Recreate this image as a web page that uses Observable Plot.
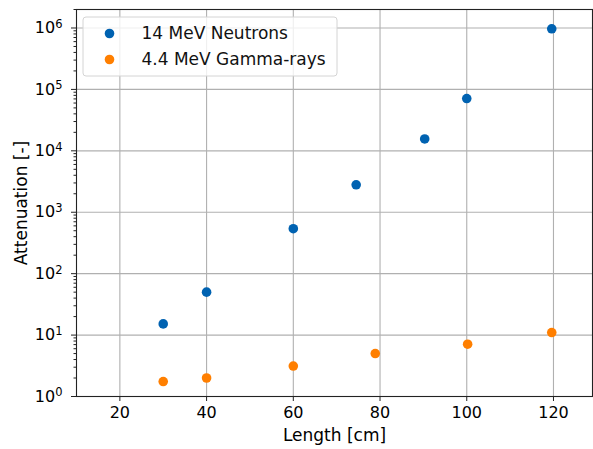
<!DOCTYPE html>
<html>
<head>
<meta charset="utf-8">
<script src="https://cdn.jsdelivr.net/npm/d3@7"></script>
<script src="https://cdn.jsdelivr.net/npm/@observablehq/plot@0.6"></script>
<style>
  html, body { margin: 0; padding: 0; background: #fff; }
  #chart svg { display: block; }
</style>
</head>
<body>
<div id="chart"></div>
<script>
// ---- data ----
const neutronLength = [30, 40, 60, 74.5, 90.3, 100, 119.6];
const neutronAtten  = [15.2, 50, 540, 2800, 15600, 71000, 970000];
const gammaLength   = [30, 40, 60, 78.9, 100.2, 119.6];
const gammaAtten    = [1.75, 2.0, 3.13, 5.0, 7.1, 11.0];
const seriesNames   = ["14 MeV Neutrons", "4.4 MeV Gamma-rays"];
const seriesColors  = ["#0062b1", "#ff7f00"];
const xTicks = [20, 40, 60, 80, 100, 120];
const yTicks = [1, 10, 100, 1e3, 1e4, 1e5, 1e6];
const yMinor = [];
for (let e = 0; e <= 6; e++) for (let m = 2; m <= 9; m++) { const v = m * 10 ** e; if (v <= 2e6) yMinor.push(v); }

const rows = [
  ...neutronLength.map((x, i) => ({ x, y: neutronAtten[i], s: seriesNames[0] })),
  ...gammaLength.map((x, i) => ({ x, y: gammaAtten[i], s: seriesNames[1] }))
];

const FONT = "DejaVu Sans, sans-serif";
const W = 593, H = 449;

const legendMarks = seriesNames.flatMap((name, i) => [
  Plot.dot([name], { frameAnchor: "top-left", dx: 33, dy: 24 + 26 * i, fill: seriesColors[i], r: 4.8 }),
  Plot.text([name], { frameAnchor: "top-left", dx: 65, dy: 24 + 26 * i, text: d => d,
    textAnchor: "start", fontSize: 17, fill: "#111", lineAnchor: "middle" })
]);

const plot = Plot.plot({
  width: W, height: H,
  marginLeft: 76, marginTop: 9, marginRight: 1, marginBottom: 53,
  style: { fontFamily: FONT, fontSize: "16px", color: "#000", background: "#fff" },
  x: { domain: [10, 129] },
  y: { type: "log", domain: [1, 2e6] },
  color: { domain: seriesNames, range: seriesColors },
  marks: [
    Plot.gridX(xTicks, { stroke: "#b0b0b0", strokeOpacity: 1, strokeWidth: 1.1 }),
    Plot.gridY(yTicks, { stroke: "#b0b0b0", strokeOpacity: 1, strokeWidth: 1.1 }),
    Plot.axisX({ ticks: xTicks, tickSize: 5, tickPadding: 5, fontSize: 16, stroke: "#222",
      label: "Length [cm]", labelAnchor: "center", labelArrow: "none", labelOffset: 44 }),
    Plot.axisY({ ticks: yMinor, tickSize: 2.5, tickFormat: () => "", stroke: "#222", label: null }),
    Plot.axisY({ ticks: yTicks, tickSize: 5, tickPadding: 9, fontSize: 16, stroke: "#222",
      tickFormat: d => "10^" + Math.round(Math.log10(d)),
      label: "Attenuation [-]", labelAnchor: "center", labelArrow: "none", labelOffset: 62 }),
    Plot.frame({ stroke: "#222", strokeWidth: 1.1 }),
    Plot.dot(rows, { x: "x", y: "y", fill: "s", r: 4.8, stroke: "none" }),
    ...legendMarks
  ]
});

const svg = d3.select(plot);
// superscript tick labels & label sizes
svg.selectAll("text").each(function () {
  const t = d3.select(this);
  const s = t.text();
  const m = /^10\^(\d+)$/.exec(s);
  if (m) {
    t.text("10");
    t.append("tspan").attr("dy", "-0.45em").attr("font-size", "11.5px").text(m[1]);
  } else if (s === "Length [cm]" || s === "Attenuation [-]") {
    t.style("font-size", "17px");
  }
});
// legend box inserted before legend marks
const dotGroups = plot.querySelectorAll("g[aria-label='dot']");
const firstLegend = dotGroups[1];
const box = document.createElementNS("http://www.w3.org/2000/svg", "rect");
box.setAttribute("x", 83); box.setAttribute("y", 17);
box.setAttribute("width", 254); box.setAttribute("height", 59);
box.setAttribute("rx", 3);
box.setAttribute("fill", "#fff"); box.setAttribute("fill-opacity", 0.8);
box.setAttribute("stroke", "#d4d4d4"); box.setAttribute("stroke-width", 1);
firstLegend.parentNode.insertBefore(box, firstLegend);

document.getElementById("chart").appendChild(plot);
</script>
</body>
</html>
